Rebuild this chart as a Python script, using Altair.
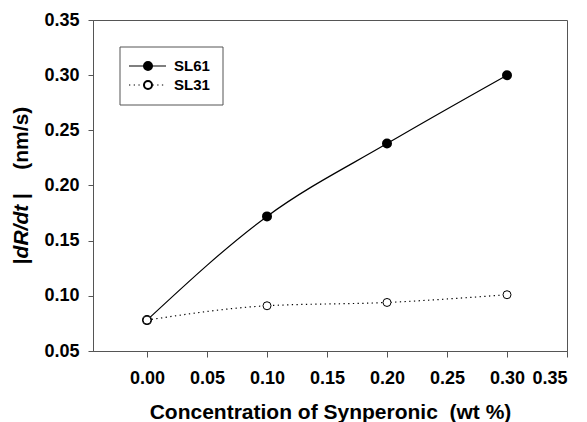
import altair as alt
import pandas as pd

# ---- data ----
conc = [0.00, 0.10, 0.20, 0.30]
sl61 = [0.078, 0.172, 0.238, 0.300]
sl31 = [0.078, 0.091, 0.094, 0.101]
series_names = ["SL61", "SL31"]
x_ticks = [0.00, 0.05, 0.10, 0.15, 0.20, 0.25, 0.30, 0.35]
y_ticks = [0.05, 0.10, 0.15, 0.20, 0.25, 0.30, 0.35]

df = pd.DataFrame({
    "conc": conc + conc,
    "val": sl61 + sl31,
    "series": [series_names[0]] * len(conc) + [series_names[1]] * len(conc),
})

FONT = "Liberation Sans"
GRAY = "#555555"

W, H = 474, 331

xenc = alt.X(
    "conc:Q",
    scale=alt.Scale(domain=[-0.045, 0.35], nice=False, zero=False),
    axis=alt.Axis(
        values=x_ticks, format=".2f",
        title="Concentration of Synperonic\u00a0 (wt %)",
        titleY=67, titleBaseline="alphabetic",
        tickSize=6, labelPadding=12,
    ),
)
yenc = alt.Y(
    "val:Q",
    scale=alt.Scale(domain=[0.05, 0.35], nice=False, zero=False),
    axis=alt.Axis(values=y_ticks, format=".2f", title=None, tickSize=5, labelPadding=9),
)

base = alt.Chart(df)
line61 = base.transform_filter(alt.datum.series == "SL61").mark_line(
    color="black", strokeWidth=1.2, interpolate="monotone"
).encode(x=xenc, y=yenc)
line31 = base.transform_filter(alt.datum.series == "SL31").mark_line(
    color="black", strokeWidth=1.2, interpolate="monotone", strokeDash=[1.3, 3.4]
).encode(x=xenc, y=yenc)
pts61 = base.transform_filter(alt.datum.series == "SL61").mark_point(
    shape="circle", filled=True, fill="black", stroke="black", size=64, opacity=1
).encode(x=xenc, y=yenc)
pts31 = base.transform_filter(alt.datum.series == "SL31").mark_point(
    shape="circle", filled=True, fill="white", stroke="black", strokeWidth=1, size=64, opacity=1
).encode(x=xenc, y=yenc)

one = alt.Data(values=[{"k": 1}])
lg = alt.Chart(one)
legend_box = lg.mark_rect(fill="white", stroke=GRAY, strokeWidth=1).encode(
    x=alt.value(27), x2=alt.value(130), y=alt.value(27), y2=alt.value(85)
)
lg_line61 = lg.mark_rule(color="black", strokeWidth=1.2).encode(
    x=alt.value(36), x2=alt.value(73), y=alt.value(46)
)
lg_line31 = lg.mark_rule(color="black", strokeWidth=1.2, strokeDash=[1.3, 3.4]).encode(
    x=alt.value(36), x2=alt.value(73), y=alt.value(65)
)
lg_pt61 = lg.mark_point(shape="circle", filled=True, fill="black", stroke="black", size=64, opacity=1).encode(
    x=alt.value(55), y=alt.value(46)
)
lg_pt31 = lg.mark_point(shape="circle", filled=True, fill="white", stroke="black", size=64, opacity=1).encode(
    x=alt.value(55), y=alt.value(65)
)
lg_txt61 = lg.mark_text(align="left", baseline="middle", font=FONT, fontWeight="bold", fontSize=15).encode(
    x=alt.value(81), y=alt.value(46), text=alt.value(series_names[0])
)
lg_txt31 = lg.mark_text(align="left", baseline="middle", font=FONT, fontWeight="bold", fontSize=15).encode(
    x=alt.value(81), y=alt.value(65), text=alt.value(series_names[1])
)

# y-axis title with italic part: "|dR/dt |    (nm/s)"
TX = -71
def ytxt(txt, y, align="left", style="normal"):
    return lg.mark_text(
        angle=270, align=align, baseline="middle", font=FONT, fontWeight="bold",
        fontSize=21, fontStyle=style,
    ).encode(x=alt.value(TX), y=alt.value(y), text=alt.value(txt))

yt1 = ytxt("|", 244.3)
yt2 = ytxt("dR/dt", 238.4, style="italic")
yt3 = ytxt("|", 178.9)
yt4 = ytxt("(nm/s)", 86.7, align="right")

chart = alt.layer(
    line61, line31, pts61, pts31,
    legend_box, lg_line61, lg_line31, lg_pt61, lg_pt31, lg_txt61, lg_txt31,
    yt1, yt2, yt3, yt4,
).properties(
    width=W, height=H,
    autosize=alt.AutoSizeParams(type="none"),
    padding={"left": 93, "top": 20, "right": 20, "bottom": 71},
).configure_view(
    stroke=GRAY, strokeWidth=1
).configure_axis(
    grid=False,
    domainColor=GRAY, tickColor=GRAY,
    labelFont=FONT, labelFontWeight="bold", labelFontSize=18, labelColor="black",
    titleFont=FONT, titleFontWeight="bold", titleFontSize=21, titleColor="black",
)

chart.save("out.html", embed_options={"renderer": "svg", "actions": False})
